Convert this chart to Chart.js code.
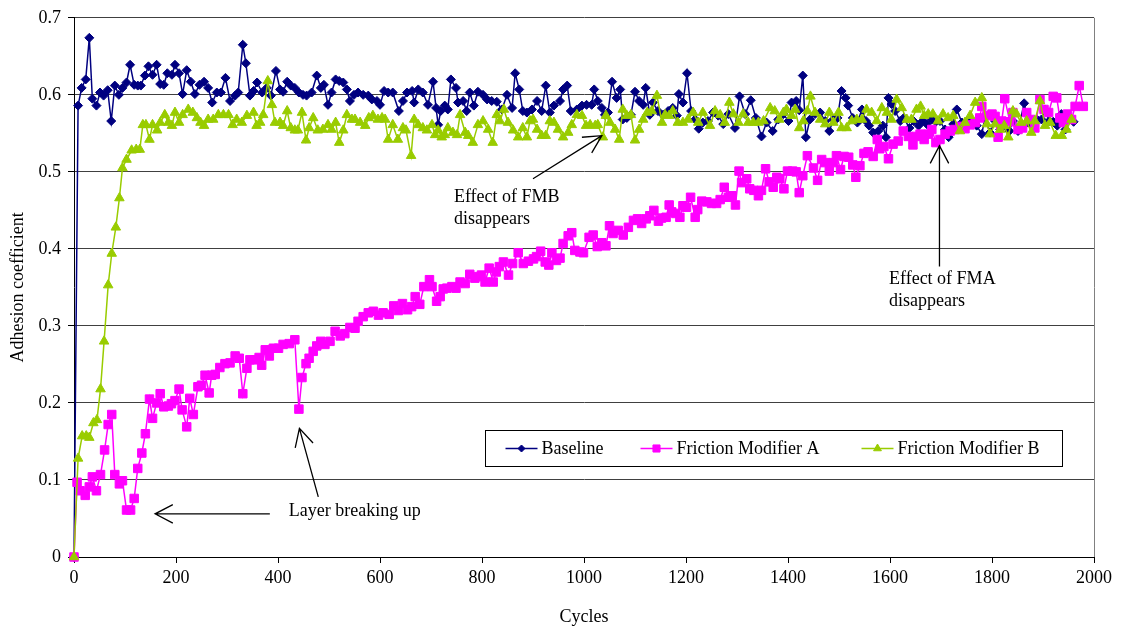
<!DOCTYPE html>
<html>
<head>
<meta charset="utf-8">
<title>Adhesion coefficient vs cycles</title>
<script src="https://cdn.jsdelivr.net/npm/chart.js@4.4.0/dist/chart.umd.min.js"></script>
<style>
  html, body { margin: 0; padding: 0; background: #fff; }
  #wrap { width: 1123px; height: 631px; }
</style>
</head>
<body>
<div id="wrap"><canvas id="chart" width="1123" height="631"></canvas></div>
<script>
// [cycles, adhesion coefficient]
const baseline = [
  [0,0],[8,0.586],[15,0.609],[23,0.620],[30,0.674],[36,0.595],[44,0.586],[51,0.603],[58,0.599],[66,0.606],
  [73,0.566],[80,0.612],[88,0.600],[95,0.609],[103,0.616],[110,0.639],[118,0.613],[125,0.612],[131,0.612],[139,0.625],
  [146,0.637],[154,0.626],[162,0.639],[169,0.614],[176,0.613],[183,0.628],[192,0.626],[198,0.639],[206,0.628],[213,0.601],
  [221,0.632],[229,0.617],[237,0.601],[246,0.613],[255,0.617],[263,0.609],[271,0.590],[280,0.603],[288,0.603],[297,0.622],
  [306,0.592],[316,0.599],[322,0.603],[331,0.665],[337,0.641],[345,0.599],[352,0.605],[359,0.616],[369,0.603],[378,0.609],
  [386,0.599],[396,0.631],[404,0.607],[410,0.604],[418,0.617],[425,0.612],[433,0.609],[441,0.603],[449,0.600],[456,0.599],
  [466,0.603],[476,0.625],[484,0.609],[490,0.613],[498,0.587],[505,0.603],[513,0.620],[520,0.618],[528,0.616],[535,0.607],
  [541,0.592],[549,0.600],[557,0.603],[567,0.600],[577,0.599],[584,0.594],[594,0.592],[600,0.587],[608,0.605],[616,0.603],
  [625,0.603],[637,0.579],[645,0.592],[653,0.603],[663,0.605],[667,0.590],[675,0.607],[684,0.603],[694,0.587],[704,0.617],
  [710,0.583],[714,0.561],[719,0.579],[727,0.586],[733,0.581],[739,0.620],[749,0.609],[753,0.590],[763,0.592],[770,0.579],
  [776,0.603],[784,0.586],[792,0.604],[802,0.600],[810,0.594],[819,0.592],[829,0.591],[839,0.581],[849,0.600],[859,0.583],
  [865,0.628],[873,0.607],[880,0.579],[888,0.577],[898,0.581],[908,0.592],[917,0.579],[925,0.612],[933,0.577],[941,0.586],
  [953,0.592],[959,0.607],[967,0.612],[974,0.579],[986,0.581],[996,0.586],[1005,0.587],[1015,0.587],[1020,0.607],[1027,0.592],
  [1035,0.583],[1041,0.574],[1047,0.577],[1055,0.617],[1064,0.596],[1071,0.607],[1076,0.568],[1084,0.570],[1092,0.574],[1100,0.604],
  [1108,0.592],[1116,0.587],[1121,0.609],[1129,0.574],[1135,0.590],[1145,0.579],[1155,0.574],[1165,0.579],[1174,0.583],[1182,0.573],
  [1186,0.601],[1194,0.590],[1202,0.628],[1210,0.579],[1218,0.568],[1225,0.556],[1233,0.564],[1243,0.566],[1253,0.577],[1263,0.573],
  [1273,0.562],[1283,0.575],[1296,0.557],[1305,0.598],[1316,0.575],[1327,0.593],[1337,0.570],[1348,0.546],[1358,0.564],[1370,0.553],
  [1381,0.568],[1391,0.575],[1401,0.566],[1407,0.590],[1416,0.592],[1422,0.580],[1429,0.625],[1435,0.545],[1443,0.568],[1453,0.575],
  [1463,0.577],[1473,0.566],[1481,0.553],[1489,0.568],[1497,0.570],[1505,0.605],[1513,0.596],[1518,0.586],[1527,0.570],[1536,0.564],
  [1545,0.581],[1553,0.566],[1559,0.560],[1567,0.551],[1577,0.553],[1586,0.560],[1592,0.545],[1597,0.596],[1603,0.588],[1610,0.579],
  [1620,0.566],[1627,0.570],[1638,0.557],[1646,0.566],[1656,0.560],[1664,0.566],[1672,0.562],[1682,0.568],[1690,0.565],[1698,0.566],
  [1708,0.555],[1715,0.545],[1724,0.562],[1731,0.581],[1741,0.564],[1751,0.566],[1760,0.566],[1770,0.560],[1780,0.549],[1786,0.570],
  [1796,0.551],[1806,0.566],[1816,0.555],[1825,0.562],[1834,0.553],[1841,0.566],[1851,0.553],[1863,0.589],[1871,0.564],[1880,0.560],
  [1888,0.568],[1897,0.568],[1904,0.581],[1912,0.566],[1920,0.565],[1928,0.560],[1936,0.575],[1944,0.555],[1952,0.570],[1960,0.565]
];

const modifierA = [
  [0,0],[6,0.097],[12,0.086],[22,0.080],[30,0.091],[36,0.104],[44,0.086],[52,0.107],[60,0.139],[67,0.172],
  [74,0.185],[80,0.107],[89,0.095],[95,0.099],[103,0.061],[111,0.061],[118,0.076],[125,0.115],[133,0.135],[140,0.160],
  [148,0.205],[154,0.180],[162,0.200],[169,0.212],[176,0.195],[185,0.196],[191,0.199],[198,0.203],[206,0.218],[212,0.191],
  [221,0.169],[227,0.206],[234,0.185],[243,0.221],[250,0.223],[257,0.236],[265,0.213],[270,0.236],[277,0.237],[286,0.246],
  [296,0.251],[306,0.252],[316,0.261],[324,0.258],[331,0.212],[339,0.245],[345,0.256],[355,0.256],[363,0.259],[368,0.249],
  [375,0.269],[383,0.261],[391,0.271],[401,0.271],[410,0.276],[422,0.277],[433,0.282],[441,0.192],[447,0.233],[455,0.251],
  [461,0.258],[469,0.267],[476,0.274],[484,0.280],[492,0.276],[502,0.280],[512,0.293],[522,0.287],[531,0.290],[541,0.298],
  [551,0.297],[557,0.306],[567,0.312],[577,0.317],[587,0.319],[597,0.314],[606,0.317],[618,0.315],[627,0.326],[636,0.320],
  [644,0.329],[654,0.321],[662,0.325],[669,0.338],[678,0.328],[686,0.351],[697,0.360],[702,0.351],[711,0.332],[718,0.338],
  [724,0.348],[731,0.349],[741,0.351],[749,0.349],[757,0.357],[767,0.355],[776,0.367],[786,0.362],[793,0.364],[799,0.366],
  [806,0.357],[814,0.375],[822,0.357],[828,0.370],[834,0.377],[842,0.383],[852,0.366],[860,0.381],[871,0.395],[881,0.381],
  [891,0.384],[901,0.387],[907,0.390],[915,0.397],[924,0.383],[931,0.379],[937,0.395],[946,0.385],[953,0.388],[959,0.407],
  [969,0.417],[976,0.421],[982,0.398],[992,0.396],[999,0.395],[1010,0.415],[1018,0.418],[1026,0.403],[1035,0.408],[1043,0.404],
  [1050,0.430],[1057,0.420],[1067,0.424],[1077,0.418],[1087,0.428],[1097,0.437],[1105,0.439],[1113,0.433],[1122,0.439],[1129,0.443],
  [1137,0.450],[1146,0.436],[1152,0.440],[1161,0.441],[1167,0.457],[1172,0.448],[1180,0.446],[1188,0.441],[1194,0.456],[1201,0.454],
  [1209,0.467],[1218,0.441],[1223,0.451],[1231,0.462],[1241,0.461],[1250,0.459],[1260,0.459],[1267,0.464],[1275,0.480],[1283,0.467],
  [1290,0.469],[1297,0.457],[1304,0.501],[1309,0.486],[1319,0.491],[1325,0.478],[1333,0.476],[1342,0.469],[1348,0.476],[1356,0.504],
  [1363,0.487],[1371,0.480],[1378,0.493],[1384,0.491],[1392,0.478],[1399,0.501],[1409,0.501],[1416,0.500],[1422,0.473],[1429,0.495],
  [1438,0.521],[1450,0.505],[1458,0.489],[1466,0.516],[1473,0.512],[1481,0.501],[1489,0.512],[1495,0.521],[1503,0.503],[1510,0.520],
  [1519,0.519],[1527,0.509],[1533,0.493],[1541,0.508],[1549,0.524],[1557,0.526],[1567,0.520],[1575,0.542],[1580,0.530],[1588,0.533],
  [1597,0.517],[1606,0.536],[1616,0.540],[1626,0.553],[1636,0.546],[1645,0.535],[1652,0.546],[1659,0.549],[1667,0.542],[1675,0.549],
  [1682,0.555],[1690,0.538],[1698,0.542],[1708,0.549],[1718,0.553],[1727,0.555],[1737,0.559],[1747,0.556],[1757,0.561],[1767,0.564],
  [1776,0.570],[1780,0.585],[1790,0.573],[1800,0.575],[1806,0.572],[1812,0.545],[1819,0.566],[1825,0.595],[1835,0.565],[1841,0.577],
  [1851,0.555],[1860,0.557],[1868,0.577],[1876,0.568],[1884,0.557],[1894,0.594],[1902,0.581],[1911,0.577],[1920,0.598],[1927,0.596],
  [1933,0.570],[1940,0.564],[1948,0.575],[1956,0.568],[1963,0.585],[1971,0.612],[1979,0.585]
];

const modifierB = [
  [0,0],[8,0.128],[16,0.157],[24,0.157],[30,0.155],[38,0.174],[45,0.178],[52,0.218],[59,0.280],[67,0.353],
  [74,0.394],[82,0.428],[89,0.466],[95,0.505],[103,0.516],[113,0.528],[122,0.529],[129,0.529],[135,0.561],[141,0.561],
  [148,0.542],[154,0.561],[163,0.554],[169,0.564],[178,0.574],[185,0.564],[192,0.560],[198,0.577],[206,0.564],[213,0.574],
  [224,0.581],[233,0.577],[241,0.570],[248,0.564],[255,0.560],[263,0.568],[273,0.568],[283,0.574],[293,0.574],[303,0.574],
  [311,0.561],[319,0.568],[329,0.564],[339,0.573],[352,0.577],[358,0.560],[365,0.564],[371,0.574],[380,0.618],[388,0.587],
  [394,0.564],[404,0.564],[410,0.560],[418,0.579],[425,0.557],[433,0.554],[439,0.554],[447,0.577],[455,0.541],[461,0.557],
  [469,0.570],[478,0.554],[488,0.555],[498,0.561],[505,0.555],[513,0.564],[520,0.538],[528,0.554],[535,0.574],[545,0.568],
  [551,0.568],[561,0.564],[571,0.560],[578,0.570],[586,0.573],[596,0.568],[604,0.570],[610,0.568],[616,0.542],[625,0.561],
  [635,0.542],[645,0.557],[651,0.554],[661,0.521],[667,0.568],[675,0.561],[684,0.557],[692,0.554],[702,0.561],[708,0.548],
  [714,0.554],[721,0.545],[727,0.548],[733,0.557],[743,0.551],[751,0.548],[757,0.574],[767,0.551],[773,0.547],[782,0.538],
  [792,0.561],[802,0.566],[812,0.555],[821,0.538],[829,0.574],[835,0.566],[843,0.581],[851,0.564],[861,0.554],[871,0.545],
  [880,0.557],[888,0.545],[894,0.566],[900,0.568],[908,0.555],[917,0.547],[925,0.547],[933,0.566],[941,0.564],[949,0.555],
  [959,0.545],[969,0.551],[976,0.561],[986,0.574],[996,0.573],[1004,0.560],[1012,0.561],[1022,0.560],[1027,0.561],[1037,0.545],
  [1043,0.573],[1051,0.564],[1061,0.555],[1069,0.542],[1076,0.581],[1084,0.573],[1092,0.574],[1100,0.541],[1108,0.555],[1116,0.568],
  [1124,0.577],[1133,0.579],[1143,0.599],[1153,0.564],[1159,0.574],[1167,0.573],[1174,0.579],[1184,0.564],[1194,0.564],[1204,0.568],
  [1214,0.577],[1224,0.564],[1233,0.577],[1247,0.560],[1257,0.579],[1267,0.574],[1276,0.564],[1285,0.590],[1293,0.575],[1303,0.564],
  [1312,0.575],[1322,0.564],[1332,0.564],[1342,0.564],[1352,0.566],[1365,0.583],[1374,0.579],[1383,0.568],[1391,0.577],[1397,0.581],
  [1407,0.573],[1414,0.581],[1422,0.557],[1430,0.566],[1438,0.579],[1444,0.598],[1453,0.577],[1463,0.568],[1473,0.562],[1481,0.577],
  [1489,0.564],[1499,0.577],[1505,0.557],[1515,0.557],[1525,0.566],[1535,0.568],[1545,0.568],[1554,0.581],[1564,0.577],[1574,0.566],
  [1584,0.583],[1594,0.577],[1603,0.568],[1613,0.594],[1623,0.583],[1633,0.568],[1642,0.568],[1652,0.581],[1660,0.585],[1667,0.573],
  [1675,0.575],[1684,0.575],[1694,0.566],[1704,0.575],[1714,0.570],[1724,0.573],[1737,0.553],[1747,0.564],[1757,0.573],[1767,0.590],
  [1780,0.596],[1790,0.562],[1796,0.549],[1806,0.562],[1816,0.555],[1824,0.560],[1832,0.545],[1841,0.579],[1848,0.575],[1857,0.564],
  [1868,0.566],[1877,0.551],[1884,0.566],[1894,0.592],[1904,0.560],[1914,0.564],[1925,0.547],[1937,0.547],[1946,0.555],[1956,0.568]
];

const X_MIN = 0, X_MAX = 2000, X_STEP = 200;
const Y_MIN = 0, Y_MAX = 0.7, Y_STEP = 0.1;

// callouts, in data units
const notes = [
  { lines: ["Effect of FMB", "disappears"], x: 745, y: 0.467 },
  { lines: ["Effect of FMA", "disappears"], x: 1598, y: 0.360 },
  { lines: ["Layer breaking up"], x: 421, y: 0.059 }
];
const arrows = [
  { from: [900, 0.491], to: [1035, 0.547] },
  { from: [1697, 0.377], to: [1697, 0.534] },
  { from: [384, 0.056], to: [159, 0.056] },
  { from: [479, 0.078], to: [442, 0.167] }
];

const FONT = '"Liberation Serif", "Times New Roman", serif';
Chart.defaults.font.family = FONT;
Chart.defaults.font.size = 18;
Chart.defaults.color = "#000";

const series = [
  { label: "Baseline", rows: baseline, color: "#000080", style: "rectRot", r: 4.5, lr: 3.5 },
  { label: "Friction Modifier A", rows: modifierA, color: "#FF00FF", style: "rect", r: 6, lr: 5 },
  { label: "Friction Modifier B", rows: modifierB, color: "#99CC00", style: "triangle", r: 5.5, lr: 4.5 }
];

function drawArrow(ctx, x0, y0, x1, y1) {
  const ang = Math.atan2(y1 - y0, x1 - x0);
  const len = 20, spread = 0.48;
  ctx.beginPath();
  ctx.moveTo(x0, y0); ctx.lineTo(x1, y1);
  ctx.moveTo(x1 - len * Math.cos(ang - spread), y1 - len * Math.sin(ang - spread));
  ctx.lineTo(x1, y1);
  ctx.lineTo(x1 - len * Math.cos(ang + spread), y1 - len * Math.sin(ang + spread));
  ctx.stroke();
}

const overlay = {
  id: "overlay",
  afterDraw(chart) {
    const { ctx, chartArea: a, scales: { x, y } } = chart;
    ctx.save();

    // right edge of the plot area
    ctx.strokeStyle = "#808080";
    ctx.lineWidth = 1;
    ctx.beginPath();
    ctx.moveTo(Math.round(a.right) + 0.5, a.top);
    ctx.lineTo(Math.round(a.right) + 0.5, a.bottom);
    ctx.stroke();

    // callout text
    ctx.fillStyle = "#000";
    ctx.font = `18px ${FONT}`;
    ctx.textAlign = "left";
    ctx.textBaseline = "middle";
    notes.forEach(n => {
      n.lines.forEach((t, i) => ctx.fillText(t, x.getPixelForValue(n.x), y.getPixelForValue(n.y) + i * 22));
    });

    // arrows
    ctx.strokeStyle = "#000";
    ctx.lineWidth = 1.3;
    arrows.forEach(ar => drawArrow(ctx,
      x.getPixelForValue(ar.from[0]), y.getPixelForValue(ar.from[1]),
      x.getPixelForValue(ar.to[0]), y.getPixelForValue(ar.to[1])));

    // legend box
    const bx = Math.round(a.left + 411) + 0.5, by = Math.round(a.top + 412) + 0.5;
    const bw = 577, bh = 36;
    ctx.fillStyle = "#fff";
    ctx.fillRect(bx, by, bw, bh);
    ctx.strokeStyle = "#000";
    ctx.lineWidth = 1;
    ctx.strokeRect(bx, by, bw, bh);
    const itemX = [20, 155, 376];
    const cy = by + bh / 2;
    series.forEach((s, i) => {
      const x0 = bx + itemX[i];
      ctx.strokeStyle = s.color;
      ctx.fillStyle = s.color;
      ctx.lineWidth = 1.5;
      ctx.beginPath(); ctx.moveTo(x0, cy); ctx.lineTo(x0 + 32, cy); ctx.stroke();
      ctx.lineWidth = 1;
      Chart.helpers.drawPoint(ctx, { pointStyle: s.style, radius: s.lr, rotation: 0, borderWidth: 1 }, x0 + 16, cy);
      ctx.fillStyle = "#000";
      ctx.fillText(s.label, x0 + 36, cy + 1);
    });

    ctx.restore();
  }
};

new Chart(document.getElementById("chart"), {
  type: "line",
  data: {
    datasets: series.map((s, i) => ({
      label: s.label,
      data: s.rows.map(([cx, cy]) => ({ x: cx, y: cy })),
      borderColor: s.color,
      backgroundColor: s.color,
      borderWidth: 1.5,
      pointStyle: s.style,
      pointRadius: s.r,
      pointBorderWidth: 1,
      pointBackgroundColor: s.color,
      pointBorderColor: s.color,
      tension: 0,
      clip: false,
      order: series.length - i
    }))
  },
  options: {
    responsive: false,
    animation: false,
    events: [],
    layout: { padding: { top: 15, right: 29, left: 0, bottom: 0 } },
    plugins: { legend: { display: false }, tooltip: { enabled: false } },
    scales: {
      x: {
        type: "linear",
        min: X_MIN, max: X_MAX,
        ticks: { stepSize: X_STEP, padding: 4, maxRotation: 0, autoSkip: false, color: "#000", callback: v => String(v) },
        grid: { drawOnChartArea: false, color: "#000", tickLength: 6 },
        border: { color: "#000", width: 1 },
        title: { display: true, text: "Cycles", color: "#000", padding: { top: 0, bottom: 3 } },
        afterFit(s) { s.height = 74; }
      },
      y: {
        min: Y_MIN, max: Y_MAX,
        ticks: { stepSize: Y_STEP, padding: 7, color: "#000", callback: v => String(+v.toFixed(1)) },
        grid: { color: "#404040", tickColor: "#000", tickLength: 6 },
        border: { color: "#000", width: 1 },
        title: { display: true, text: "Adhesion coefficient", color: "#000", padding: { top: 7, bottom: 0 } },
        afterFit(s) { s.width = 74; }
      }
    }
  },
  plugins: [overlay]
});
</script>
</body>
</html>
